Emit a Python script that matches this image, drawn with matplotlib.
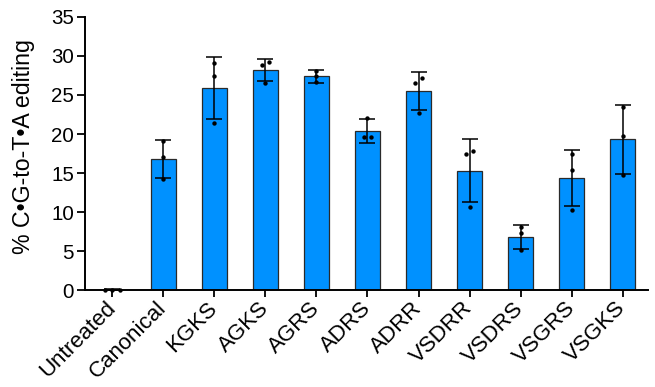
import numpy as np
import matplotlib
matplotlib.use("Agg")
import matplotlib.pyplot as plt

plt.rcParams['font.family'] = ['Liberation Sans', 'DejaVu Sans']

# Editor variants
categories = ["Untreated", "Canonical", "KGKS", "AGKS", "AGRS", "ADRS",
              "ADRR", "VSDRR", "VSDRS", "VSGRS", "VSGKS"]

# Mean % C•G-to-T•A editing and standard deviation
means = [0.05, 16.8, 25.9, 28.2, 27.4, 20.4, 25.5, 15.3, 6.8, 14.4, 19.3]
sds = [0.05, 2.45, 4.0, 1.45, 0.8, 1.5, 2.45, 4.05, 1.5, 3.6, 4.4]

# Individual replicates
replicates = [
    [0.05, 0.05, 0.05],
    [19.05, 17.05, 14.2],
    [29.05, 27.4, 21.4],
    [29.2, 28.8, 26.6],
    [28.1, 27.4, 26.7],
    [22.05, 19.6, 19.6],
    [27.2, 26.6, 22.7],
    [17.8, 17.5, 10.7],
    [8.1, 7.25, 5.1],
    [17.4, 15.4, 10.3],
    [23.5, 19.7, 14.7],
]

bar_color = "#0091FF"

fig = plt.figure(figsize=(6.55, 3.87), dpi=100)
ax = fig.add_axes([0.130, 0.2506, 0.859, 0.7055])

xpos = np.arange(len(categories))
ax.bar(xpos, means, width=0.49, color=bar_color, edgecolor="#2a2a2a",
       linewidth=0.9, zorder=2)
ax.errorbar(xpos, means, yerr=sds, fmt="none", ecolor="black", elinewidth=1.1,
            capsize=5.5, capthick=1.1, zorder=3)

# spread replicates that would overlap
for i, vals in enumerate(replicates):
    vals = np.asarray(vals)
    offs = np.zeros(len(vals))
    if i == 0:
        offs = np.array([-0.15, 0.0, 0.15])
    else:
        order = np.argsort(vals)
        for a in range(len(order) - 1):
            j, k = order[a], order[a + 1]
            if abs(vals[k] - vals[j]) < 0.6:
                offs[j] -= 0.07
                offs[k] += 0.07
    ax.scatter(xpos[i] + offs, vals, s=10, color="black", zorder=5,
               linewidths=0, clip_on=False)

ax.set_xlim(-0.53, 10.49)
ax.set_ylim(0, 35)
ax.set_yticks(np.arange(0, 36, 5))
ax.set_xticks(xpos)
ax.set_xticklabels(categories, rotation=45, ha="right", va="center",
                   rotation_mode="anchor", fontsize=16)
ax.tick_params(axis="y", labelsize=14.8, width=1.3, length=6, pad=2)
ax.tick_params(axis="x", width=1.3, length=5, pad=6)
for s in ["top", "right"]:
    ax.spines[s].set_visible(False)
for s in ["left", "bottom"]:
    ax.spines[s].set_linewidth(1.4)

ax.set_ylabel("% C•G-to-T•A editing", fontsize=16.7)
ax.yaxis.set_label_coords(-0.089, 0.5256)

fig.savefig("out.png", dpi=100)
